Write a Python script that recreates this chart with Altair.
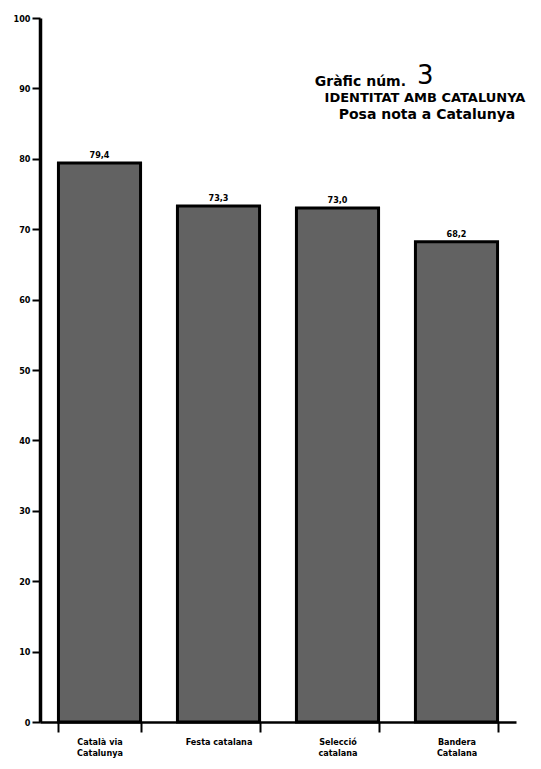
import altair as alt
import pandas as pd

categories = ["Català via|Catalunya", "Festa catalana", "Selecció|catalana", "Bandera|Catalana"]
values = [79.4, 73.3, 73.0, 68.2]
value_labels = ["79,4", "73,3", "73,0", "68,2"]
y_ticks = [0, 10, 20, 30, 40, 50, 60, 70, 80, 90, 100]

df = pd.DataFrame({"cat": categories, "val": values, "lab": value_labels})

FONT = "DejaVu Sans Condensed, DejaVu Sans, sans-serif"
TFONT = "DejaVu Sans, sans-serif"

x_enc = alt.X("cat:N", sort=categories, title=None,
              scale=alt.Scale(paddingInner=0.31, paddingOuter=0.155),
              axis=alt.Axis(labelExpr="split(datum.label, '|')", labelAngle=0,
                            labelFont=FONT, labelFontWeight="bold", labelFontSize=9,
                            labelColor="black", labelPadding=5, labelLineHeight=11,
                            tickBand="extent", tickColor="black", tickWidth=2, tickSize=10,
                            tickOffset=0, domainColor="black", domainWidth=2.5))
y_enc = alt.Y("val:Q", title=None,
              scale=alt.Scale(domain=[0, 100], nice=False),
              axis=alt.Axis(values=y_ticks, labelFont=FONT, labelFontWeight="bold",
                            labelFontSize=9, labelColor="black", labelPadding=2,
                            tickColor="black", tickWidth=2, tickSize=8, tickOffset=0,
                            domainColor="black", domainWidth=3.5, grid=False))

bars = alt.Chart(df).mark_bar(fill="#626262", stroke="black", strokeWidth=3).encode(
    x=x_enc, y=y_enc)

labels = alt.Chart(df).mark_text(dy=-8, font=FONT, fontWeight="bold", fontSize=9,
                                 color="black").encode(
    x=alt.X("cat:N", sort=categories), y="val:Q", text="lab:N")

t1 = alt.Chart(pd.DataFrame({"t": ["Gràfic núm."]})).mark_text(
    font=TFONT, fontWeight="bold", fontSize=14, align="right", color="black").encode(
    x=alt.value(366), y=alt.value(64), text="t:N")
t1b = alt.Chart(pd.DataFrame({"t": ["3"]})).mark_text(
    font=TFONT, fontSize=26, align="left", color="black").encode(
    x=alt.value(377), y=alt.value(58), text="t:N")
t2 = alt.Chart(pd.DataFrame({"t": ["IDENTITAT AMB CATALUNYA"]})).mark_text(
    font=TFONT, fontWeight="bold", fontSize=13, align="center", color="black").encode(
    x=alt.value(385), y=alt.value(80), text="t:N")
t3 = alt.Chart(pd.DataFrame({"t": ["Posa nota a Catalunya"]})).mark_text(
    font=TFONT, fontWeight="bold", fontSize=14, align="center", color="black").encode(
    x=alt.value(387), y=alt.value(97), text="t:N")

chart = alt.layer(bars, labels, t1, t1b, t2, t3).properties(
    width=476, height=704,
    padding={"left": 32, "top": 10, "right": 17, "bottom": 36},
    autosize=alt.AutoSizeParams(type="none"),
    background="white",
).configure_view(stroke=None)

chart.save("out.html", embed_options={"renderer": "svg", "actions": False})
